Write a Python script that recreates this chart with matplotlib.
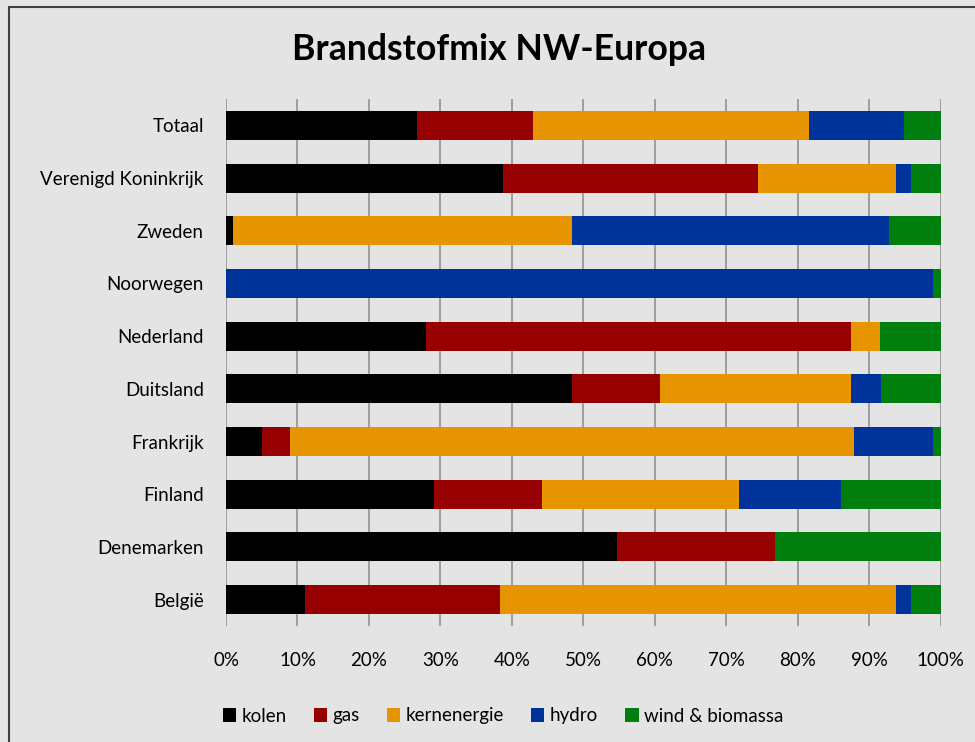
import matplotlib
matplotlib.use("Agg")
import matplotlib.pyplot as plt
from matplotlib.patches import Patch, Rectangle
import numpy as np

plt.rcParams['font.family'] = ['Lato', 'DejaVu Sans']

# landen van boven naar beneden
landen = ['Totaal', 'Verenigd Koninkrijk', 'Zweden', 'Noorwegen', 'Nederland',
          'Duitsland', 'Frankrijk', 'Finland', 'Denemarken', 'België']

# aandelen in procent
kolen = [26.7, 38.8, 1.0, 0.0, 28.0, 48.4, 5.0, 29.1, 54.7, 11.0]
gas = [16.2, 35.6, 0.0, 0.0, 59.4, 12.3, 4.0, 15.1, 22.1, 27.4]
kernenergie = [38.7, 19.4, 47.4, 0.0, 4.1, 26.7, 78.9, 27.6, 0.0, 55.4]
hydro = [13.2, 2.1, 44.4, 98.9, 0.0, 4.3, 11.0, 14.2, 0.0, 2.1]
wind_biomassa = [5.2, 4.1, 7.2, 1.1, 8.5, 8.3, 1.1, 14.0, 23.2, 4.1]

reeksen = ['kolen', 'gas', 'kernenergie', 'hydro', 'wind & biomassa']
kleuren = ['#000000', '#960000', '#E69500', '#003399', '#007F0E']

bg = '#E4E4E4'
fig = plt.figure(figsize=(9.75, 7.42), dpi=100, facecolor=bg)
ax = fig.add_axes([226 / 975, 1 - 626 / 742, (940.7 - 226) / 975, (626 - 99) / 742])
ax.set_facecolor(bg)

y = np.arange(len(landen))
left = np.zeros(len(landen))
for waarden, kleur, naam in zip([kolen, gas, kernenergie, hydro, wind_biomassa], kleuren, reeksen):
    w = np.array(waarden) / 100
    ax.barh(y, w, left=left, height=0.55, color=kleur, label=naam, zorder=3)
    left += w

ax.set_ylim(len(landen) - 0.5, -0.5)
ax.set_yticks(y)
ax.set_yticklabels(landen, fontsize=13.5)
ax.set_xlim(0, 1)
ax.set_xticks(np.linspace(0, 1, 11))
ax.set_xticklabels([f'{i}%' for i in range(0, 101, 10)], fontsize=13.5)
ax.tick_params(axis='both', length=0)
ax.tick_params(axis='y', pad=16)
ax.tick_params(axis='x', pad=19)
ax.grid(axis='x', color='#8a8a8a', linewidth=1.1, zorder=0)
for s in ax.spines.values():
    s.set_visible(False)

fig.text(499 / 975, 1 - 49 / 742, 'Brandstofmix NW-Europa', ha='center', va='center',
         fontsize=25.7, fontweight='bold')

handles = [Patch(facecolor=k, label=n) for k, n in zip(kleuren, reeksen)]
fig.legend(handles=handles, loc='center', bbox_to_anchor=(503 / 975, 1 - 716 / 742),
           ncol=5, frameon=False, fontsize=13.5, handlelength=0.7, handleheight=0.7,
           handletextpad=0.3, columnspacing=1.45)

# rand van de grafiek
fig.patches.append(Rectangle((9 / 975, -0.1), 1.2, 1 - 7 / 742 + 0.1, transform=fig.transFigure,
                             fill=False, edgecolor='#404040', linewidth=1.5))

fig.savefig('out.png', dpi=100, facecolor=bg)
